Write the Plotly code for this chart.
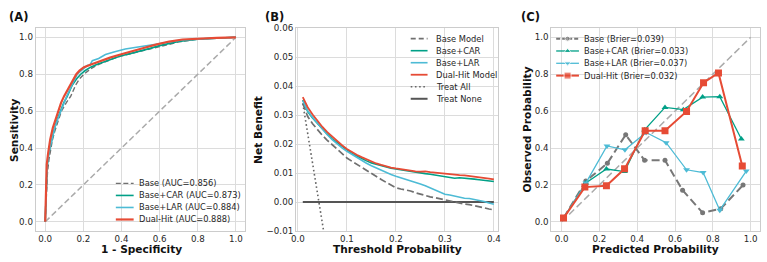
import plotly.graph_objects as go

W, H = 767, 262

RED = "#E64B35"
CYAN = "#4DBBD5"
GREEN = "#00A087"
BASEGRAY = "#707070"
DIAG = "#aaaaaa"
GRID = "#dcdcdc"
FRAME = "#cccccc"
TXT = "#262626"
FONT = "DejaVu Sans"

# ---------------- Panel A: ROC ----------------
roc_base_fpr = [0, 0.006, 0.012, 0.02, 0.038, 0.05, 0.066, 0.085, 0.11, 0.134, 0.16, 0.18, 0.203, 0.238, 0.28, 0.325, 0.36, 0.40, 0.45, 0.498, 0.55, 0.6, 0.65, 0.7, 0.75, 0.8, 0.9, 1.0]
roc_base_tpr = [0, 0.15, 0.27, 0.34, 0.445, 0.49, 0.545, 0.6, 0.645, 0.681, 0.742, 0.775, 0.8, 0.829, 0.853, 0.873, 0.886, 0.899, 0.912, 0.925, 0.94, 0.953, 0.965, 0.975, 0.983, 0.99, 0.996, 1.0]
roc_car_fpr = [0, 0.005, 0.01, 0.02, 0.035, 0.05, 0.063, 0.078, 0.097, 0.116, 0.142, 0.165, 0.186, 0.21, 0.238, 0.27, 0.299, 0.35, 0.394, 0.45, 0.498, 0.55, 0.6, 0.65, 0.7, 0.8, 0.9, 1.0]
roc_car_tpr = [0, 0.2, 0.3, 0.38, 0.45, 0.51, 0.555, 0.6, 0.645, 0.681, 0.742, 0.775, 0.8, 0.82, 0.838, 0.852, 0.864, 0.882, 0.899, 0.913, 0.925, 0.94, 0.955, 0.968, 0.978, 0.99, 0.996, 1.0]
roc_lar_fpr = [0, 0.004, 0.01, 0.02, 0.035, 0.05, 0.065, 0.082, 0.097, 0.113, 0.14, 0.168, 0.195, 0.22, 0.235, 0.247, 0.28, 0.316, 0.36, 0.42, 0.47, 0.516, 0.58, 0.65, 0.72, 0.8, 0.9, 1.0]
roc_lar_tpr = [0, 0.18, 0.3, 0.38, 0.45, 0.51, 0.555, 0.6, 0.64, 0.681, 0.74, 0.8, 0.825, 0.847, 0.85, 0.873, 0.885, 0.907, 0.92, 0.937, 0.945, 0.951, 0.962, 0.975, 0.985, 0.99, 0.996, 1.0]
roc_dual_fpr = [0, 0.003, 0.008, 0.015, 0.026, 0.04, 0.055, 0.068, 0.083, 0.099, 0.115, 0.13, 0.145, 0.163, 0.18, 0.203, 0.24, 0.29, 0.34, 0.394, 0.45, 0.516, 0.58, 0.65, 0.72, 0.8, 0.9, 1.0]
roc_dual_tpr = [0, 0.2, 0.31, 0.37, 0.445, 0.51, 0.56, 0.6, 0.645, 0.681, 0.71, 0.742, 0.77, 0.8, 0.82, 0.838, 0.853, 0.873, 0.89, 0.907, 0.925, 0.942, 0.96, 0.977, 0.988, 0.993, 0.997, 1.0]
roc_labels = ["Base (AUC=0.856)", "Base+CAR (AUC=0.873)", "Base+LAR (AUC=0.884)", "Dual-Hit (AUC=0.888)"]
diag = [0, 1]

# ---------------- Panel B: DCA ----------------
thresholds = [0.01, 0.02, 0.03, 0.04, 0.05, 0.06, 0.07, 0.08, 0.09, 0.10,
              0.11, 0.12, 0.13, 0.14, 0.15, 0.16, 0.17, 0.18, 0.19, 0.20,
              0.21, 0.22, 0.23, 0.24, 0.25, 0.26, 0.27, 0.28, 0.29, 0.30,
              0.31, 0.32, 0.33, 0.34, 0.35, 0.36, 0.37, 0.38, 0.39, 0.40]
nb_base = [0.0340, 0.0295, 0.0270, 0.0248, 0.0230, 0.0213, 0.0197, 0.0181, 0.0166, 0.0152,
           0.0141, 0.0130, 0.0120, 0.0110, 0.0099, 0.0088, 0.0078, 0.0068, 0.0058, 0.0049,
           0.0045, 0.0042, 0.0038, 0.0032, 0.0027, 0.0022, 0.0018, 0.0015, 0.0011, 0.0007,
           0.0003, 0.0000, -0.0004, -0.0007, -0.0009, -0.0012, -0.0016, -0.0020, -0.0024, -0.0027]
nb_car = [0.0352, 0.0312, 0.0290, 0.0270, 0.0250, 0.0234, 0.0218, 0.0205, 0.0192, 0.0179,
          0.0168, 0.0159, 0.0150, 0.0142, 0.0135, 0.0130, 0.0126, 0.0121, 0.0117, 0.0114,
          0.0111, 0.0108, 0.0106, 0.0103, 0.0100, 0.0098, 0.0096, 0.0093, 0.0089, 0.0086,
          0.0083, 0.0082, 0.0084, 0.0083, 0.0081, 0.0079, 0.0077, 0.0075, 0.0073, 0.0071]
nb_lar = [0.0350, 0.0315, 0.0292, 0.0271, 0.0250, 0.0232, 0.0215, 0.0200, 0.0187, 0.0175,
          0.0164, 0.0154, 0.0144, 0.0134, 0.0125, 0.0117, 0.0110, 0.0103, 0.0095, 0.0089,
          0.0084, 0.0078, 0.0073, 0.0068, 0.0062, 0.0056, 0.0049, 0.0042, 0.0035, 0.0027,
          0.0024, 0.0020, 0.0017, 0.0013, 0.0012, 0.0009, 0.0006, 0.0002, -0.0003, -0.0008]
nb_dual = [0.0362, 0.0327, 0.0302, 0.0280, 0.0259, 0.0241, 0.0225, 0.0210, 0.0196, 0.0183,
           0.0172, 0.0163, 0.0155, 0.0147, 0.0140, 0.0133, 0.0128, 0.0123, 0.0119, 0.0116,
           0.0113, 0.0111, 0.0108, 0.0106, 0.0105, 0.0106, 0.0103, 0.0101, 0.0099, 0.0097,
           0.0095, 0.0094, 0.0093, 0.0092, 0.0090, 0.0089, 0.0086, 0.0083, 0.0081, 0.0078]
treat_all_pt = [0.01, 0.02, 0.03, 0.04, 0.05, 0.06]
treat_all_nb = [0.0340, 0.0238, 0.0136, 0.0033, -0.0072, -0.0177]
treat_none_pt = [0.01, 0.40]
treat_none_nb = [0.0, 0.0]
dca_labels = ["Base Model", "Base+CAR", "Base+LAR", "Dual-Hit Model", "Treat All", "Treat None"]

# ---------------- Panel C: Calibration ----------------
cal_base_x = [0.01, 0.128, 0.242, 0.339, 0.439, 0.547, 0.64, 0.746, 0.842, 0.96]
cal_base_y = [0.02, 0.221, 0.317, 0.472, 0.333, 0.333, 0.171, 0.049, 0.071, 0.199]
cal_car_x = [0.01, 0.128, 0.237, 0.333, 0.439, 0.547, 0.644, 0.746, 0.837, 0.951]
cal_car_y = [0.02, 0.21, 0.286, 0.272, 0.498, 0.62, 0.608, 0.676, 0.678, 0.449]
cal_lar_x = [0.01, 0.128, 0.24, 0.335, 0.447, 0.553, 0.661, 0.749, 0.837, 0.977]
cal_lar_y = [0.02, 0.21, 0.411, 0.39, 0.484, 0.429, 0.282, 0.267, 0.063, 0.275]
cal_dual_x = [0.01, 0.123, 0.237, 0.333, 0.442, 0.547, 0.661, 0.751, 0.83, 0.956]
cal_dual_y = [0.02, 0.188, 0.195, 0.287, 0.493, 0.493, 0.598, 0.754, 0.807, 0.303]
cal_labels = ["Base (Brier=0.039)", "Base+CAR (Brier=0.033)", "Base+LAR (Brier=0.037)", "Dual-Hit (Brier=0.032)"]


def px(x):
    return x / W


def py(y):
    return 1 - y / H


fig = go.Figure()

# ROC
fig.add_trace(go.Scatter(x=diag, y=diag, mode="lines", line=dict(color=DIAG, width=1.5, dash="6px,3px"), xaxis="x", yaxis="y"))
fig.add_trace(go.Scatter(x=roc_base_fpr, y=roc_base_tpr, mode="lines", line=dict(color=BASEGRAY, width=1.4, dash="5px,2.5px"), xaxis="x", yaxis="y"))
fig.add_trace(go.Scatter(x=roc_car_fpr, y=roc_car_tpr, mode="lines", line=dict(color=GREEN, width=1.6), xaxis="x", yaxis="y"))
fig.add_trace(go.Scatter(x=roc_lar_fpr, y=roc_lar_tpr, mode="lines", line=dict(color=CYAN, width=1.6), xaxis="x", yaxis="y"))
fig.add_trace(go.Scatter(x=roc_dual_fpr, y=roc_dual_tpr, mode="lines", line=dict(color=RED, width=2.2), xaxis="x", yaxis="y"))

# DCA
fig.add_trace(go.Scatter(x=treat_all_pt, y=treat_all_nb, mode="lines", line=dict(color="#666666", width=1.6, dash="1.6px,2.6px"), xaxis="x2", yaxis="y2"))
fig.add_trace(go.Scatter(x=treat_none_pt, y=treat_none_nb, mode="lines", line=dict(color="#555555", width=2), xaxis="x2", yaxis="y2"))
fig.add_trace(go.Scatter(x=thresholds, y=nb_base, mode="lines", line=dict(color=BASEGRAY, width=1.7, dash="7px,3px"), xaxis="x2", yaxis="y2"))
fig.add_trace(go.Scatter(x=thresholds, y=nb_car, mode="lines", line=dict(color=GREEN, width=1.6), xaxis="x2", yaxis="y2"))
fig.add_trace(go.Scatter(x=thresholds, y=nb_lar, mode="lines", line=dict(color=CYAN, width=1.6), xaxis="x2", yaxis="y2"))
fig.add_trace(go.Scatter(x=thresholds, y=nb_dual, mode="lines", line=dict(color=RED, width=1.8), xaxis="x2", yaxis="y2"))

# Calibration
fig.add_trace(go.Scatter(x=diag, y=diag, mode="lines", line=dict(color=DIAG, width=1.5, dash="7px,3.5px"), xaxis="x3", yaxis="y3"))
fig.add_trace(go.Scatter(x=cal_base_x, y=cal_base_y, mode="lines+markers", line=dict(color="#777777", width=2, dash="8px,4px"),
                         marker=dict(symbol="circle", size=5, color="#777777"), xaxis="x3", yaxis="y3"))
fig.add_trace(go.Scatter(x=cal_car_x, y=cal_car_y, mode="lines+markers", line=dict(color=GREEN, width=1.3),
                         marker=dict(symbol="triangle-up", size=6, color=GREEN), xaxis="x3", yaxis="y3"))
fig.add_trace(go.Scatter(x=cal_lar_x, y=cal_lar_y, mode="lines+markers", line=dict(color=CYAN, width=1.3),
                         marker=dict(symbol="triangle-down", size=6, color=CYAN), xaxis="x3", yaxis="y3"))
fig.add_trace(go.Scatter(x=cal_dual_x, y=cal_dual_y, mode="lines+markers", line=dict(color=RED, width=2),
                         marker=dict(symbol="square", size=7, color=RED), xaxis="x3", yaxis="y3"))

# ---------------- manual legends (overlay pixel axis) ----------------
annotations = []


def legend(entries, labels, x0, x1, xt, y0, dy):
    for i, (lab, st) in enumerate(zip(labels, entries)):
        yy = y0 + i * dy
        mode = "lines+markers" if st.get("symbol") else "lines"
        tr = go.Scatter(x=[x0, (x0 + x1) / 2, x1], y=[yy, yy, yy], mode=mode,
                        line=dict(color=st["color"], width=st["width"], dash=st.get("dash", "solid")),
                        xaxis="x4", yaxis="y4", cliponaxis=False)
        if st.get("symbol"):
            tr.marker = dict(symbol=st["symbol"], size=[0, st["msize"], 0], color=st["color"])
        fig.add_trace(tr)
        annotations.append(dict(x=px(xt), y=py(yy), xref="paper", yref="paper", text=lab, showarrow=False,
                                xanchor="left", yanchor="middle", font=dict(family=FONT, size=8.3, color=TXT)))


legend([dict(color=BASEGRAY, width=1.4, dash="5px,2.5px"), dict(color=GREEN, width=1.6),
        dict(color=CYAN, width=1.6), dict(color=RED, width=2.2)],
       roc_labels, 112, 130, 133, 185.5, 12.5)
legend([dict(color=BASEGRAY, width=1.7, dash="5px,3px"), dict(color=GREEN, width=1.6),
        dict(color=CYAN, width=1.6), dict(color=RED, width=1.8),
        dict(color="#666666", width=1.6, dash="1.6px,2.6px"), dict(color="#555555", width=2)],
       dca_labels, 410, 427, 433.5, 35, 12.5)
legend([dict(color="#777777", width=2, dash="4px,2px", symbol="circle", msize=5),
        dict(color=GREEN, width=1.3, symbol="triangle-up", msize=6),
        dict(color=CYAN, width=1.3, symbol="triangle-down", msize=6),
        dict(color=RED, width=2, symbol="square", msize=7)],
       cal_labels, 557, 580, 583.5, 35, 12.8)

# ---------------- titles ----------------
def label(text, x, y, size, angle=0):
    annotations.append(dict(x=px(x), y=py(y), xref="paper", yref="paper", text=text, showarrow=False,
                            xanchor="center", yanchor="middle", textangle=angle,
                            font=dict(family=FONT, size=size, color="#111111", weight="bold")))


label("(A)", 14, 12, 11.5)
label("(B)", 272.5, 12, 11.5)
label("(C)", 531, 12, 11.5)
label("1 - Specificity", 137.5, 253.5, 10.6)
label("Threshold Probability", 397, 253.5, 10.6)
label("Predicted Probability", 657.5, 253.5, 10.6)
label("Sensitivity", 8.5, 129.5, 10.6, -90)
label("Net Benefit", 255, 129.5, 10.6, -90)
label("Observed Probability", 527.5, 129.5, 10.6, -90)

ydom = [py(235), py(24)]


def ax(domain, rng, dtick, fmt, anchor):
    return dict(domain=domain, range=rng, dtick=dtick, tick0=0, tickformat=fmt, anchor=anchor,
                showgrid=True, gridcolor=GRID, gridwidth=1, showline=True, linecolor=FRAME,
                linewidth=1, mirror=True, ticks="", zeroline=False,
                tickfont=dict(family=FONT, size=8.7, color=TXT))


fig.update_layout(
    width=W, height=H, margin=dict(l=0, r=0, t=0, b=0),
    paper_bgcolor="white", plot_bgcolor="rgba(0,0,0,0)", showlegend=False,
    xaxis=ax([px(31), px(243)], [-0.05, 1.05], 0.2, ".1f", "y"),
    yaxis=ax(ydom, [-0.05, 1.05], 0.2, ".1f", "x"),
    xaxis2=ax([px(294), px(498)], [-0.004, 0.408], 0.1, ".1f", "y2"),
    yaxis2=ax(ydom, [-0.01, 0.06], 0.01, ".2f", "x2"),
    xaxis3=ax([px(552), px(763)], [-0.055, 1.05], 0.2, ".1f", "y3"),
    yaxis3=ax(ydom, [-0.05, 1.05], 0.2, ".1f", "x3"),
    xaxis4=dict(domain=[0, 1], range=[0, W], visible=False, fixedrange=True, anchor="y4"),
    yaxis4=dict(domain=[0, 1], range=[H, 0], visible=False, fixedrange=True, anchor="x4"),
    annotations=annotations,
)

fig.write_html("out.html")
